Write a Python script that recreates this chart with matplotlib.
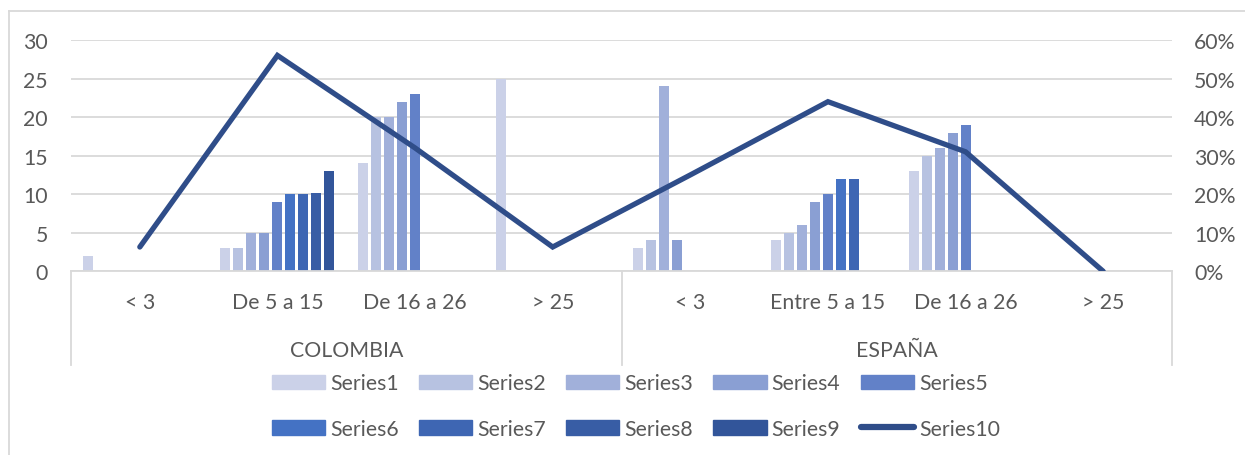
import numpy as np
import matplotlib
matplotlib.use('Agg')
import matplotlib.pyplot as plt
import matplotlib.transforms as mtransforms
from matplotlib.patches import Patch
from matplotlib.lines import Line2D
from matplotlib.ticker import PercentFormatter

plt.rcParams['font.family'] = ['Lato', 'DejaVu Sans']
plt.rcParams['font.size'] = 15.3

categories = ['< 3', 'De 5 a 15', 'De 16 a 26', '> 25',
              '< 3', 'Entre 5 a 15', 'De 16 a 26', '> 25']
groups = ['COLOMBIA', 'ESPAÑA']

series1 = [2, 3, 14, 25, 3, 4, 13, 0]
series2 = [0, 3, 20, 0, 4, 5, 15, 0]
series3 = [0, 5, 20, 0, 24, 6, 16, 0]
series4 = [0, 5, 22, 0, 4, 9, 18, 0]
series5 = [0, 9, 23, 0, 0, 10, 19, 0]
series6 = [0, 10, 0, 0, 0, 12, 0, 0]
series7 = [0, 10, 0, 0, 0, 12, 0, 0]
series8 = [0, 10.1, 0, 0, 0, 0, 0, 0]
series9 = [0, 13, 0, 0, 0, 0, 0, 0]
series10 = [0.063, 0.56, 0.32, 0.063, 0.25, 0.44, 0.31, 0.0]

bar_series = [series1, series2, series3, series4, series5,
              series6, series7, series8, series9]
colors = ['#CBD1E8', '#B7C2E1', '#A1B0DA', '#8A9FD3', '#6281C8',
          '#4472C4', '#3E66B3', '#385DA5', '#32559A']
line_color = '#2F4D89'
text_color = '#595959'
grid_color = '#D9D9D9'

fig = plt.figure(figsize=(12.45, 4.56), dpi=100)
ax = fig.add_axes([71/1245, 1 - 272.3/456, 1101/1245, 231.3/456])

x = np.arange(len(categories))
slot = 0.0945
width = 0.0727
for i, vals in enumerate(bar_series):
    ax.bar(x + (i - 4) * slot, vals, width=width, color=colors[i], zorder=2)

ax.set_xlim(-0.5, len(categories) - 0.5)
ax.set_ylim(0, 30)
ax.set_yticks(range(0, 31, 5))
ax.grid(axis='y', color=grid_color, lw=1.3, zorder=0)
ax.set_axisbelow(True)
for s in ['top', 'left', 'right']:
    ax.spines[s].set_visible(False)
ax.spines['bottom'].set_color(grid_color)
ax.spines['bottom'].set_linewidth(1.3)
ax.set_xticks(x, categories)
ax.tick_params(axis='x', length=0, pad=15, colors=text_color)
ax.tick_params(axis='y', length=0, pad=16.5, colors=text_color)

# multi-level category axis
trans = mtransforms.blended_transform_factory(ax.transData, ax.transAxes)
for xs in [-0.5, 3.5, 7.5]:
    ax.plot([xs, xs], [0, -0.405], transform=trans, color=grid_color,
            lw=1.3, clip_on=False)
for gi, g in enumerate(groups):
    ax.text(gi * 4 + 1.5, -0.34, g, transform=trans, ha='center',
            va='center', color=text_color)

ax2 = ax.twinx()
ax2.plot(x, series10, color=line_color, lw=3.8, solid_capstyle='round',
         solid_joinstyle='miter', zorder=3)
ax2.set_ylim(0, 0.6)
ax2.set_yticks(np.arange(0, 0.61, 0.1))
ax2.yaxis.set_major_formatter(PercentFormatter(1.0, decimals=0))
for s in ax2.spines.values():
    s.set_visible(False)
ax2.tick_params(axis='y', length=0, pad=16, colors=text_color)

# chart border
fig.add_artist(Line2D([9/1245, 9/1245], [0, 1 - 12/456], color=grid_color, lw=1.3))
fig.add_artist(Line2D([9/1245, 1], [1 - 12/456, 1 - 12/456], color=grid_color, lw=1.3))

# legend, row-major order
handles = [Patch(color=c) for c in colors] + [Line2D([], [], color=line_color, lw=4.5,
                                                   solid_capstyle='round')]
labels = ['Series%d' % (i + 1) for i in range(10)]
order = [0, 5, 1, 6, 2, 7, 3, 8, 4, 9]
leg = fig.legend([handles[i] for i in order], [labels[i] for i in order],
                 ncol=5, loc='center', bbox_to_anchor=(636/1245, 1 - 407/456),
                 frameon=False, handlelength=2.5, handleheight=0.67,
                 handletextpad=0.24, columnspacing=0.95, labelspacing=1.2)
for t in leg.get_texts():
    t.set_color(text_color)

fig.savefig('out.png', dpi=100)
